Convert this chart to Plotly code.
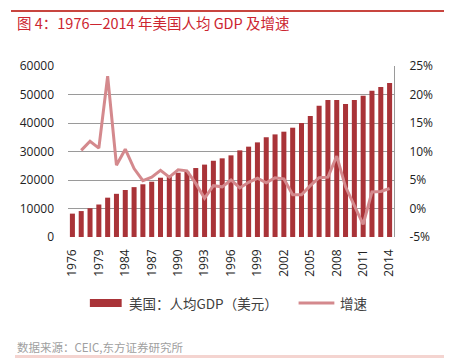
import plotly.graph_objects as go

# ---------------- data ----------------
years = ["1976", "1977", "1978", "1979", "1981", "1983", "1984", "1985", "1986", "1987",
         "1988", "1989", "1990", "1991", "1992", "1993", "1994", "1995", "1996", "1997",
         "1998", "1999", "2000", "2001", "2002", "2003", "2004", "2005", "2006", "2007",
         "2008", "2009", "2010", "2011", "2012", "2013", "2014"]
gdp_per_capita = [8200, 9100, 10100, 11400, 13800, 15150, 16500, 17500, 18500, 19400,
                  20800, 21750, 22550, 22950, 24200, 25400, 26750, 27600, 28650, 30400,
                  31700, 33200, 35000, 36000, 36950, 38350, 40000, 42450, 46070, 48070,
                  48070, 46670, 48070, 49580, 51330, 52630, 54040]
growth_pct = [None, 10.2, 11.8, 10.6, 23.2, 7.6, 10.4, 7.0, 4.9, 5.5,
              6.7, 5.5, 6.8, 6.6, 4.4, 1.8, 4.0, 3.8, 5.0, 3.6,
              4.6, 5.3, 4.5, 5.4, 5.2, 2.4, 2.4, 4.0, 5.4, 5.5,
              9.2, 3.8, 0.6, -2.8, 2.9, 3.0, 3.5]
tick_years = ["1976", "1979", "1984", "1987", "1990", "1993", "1996", "1999",
              "2002", "2005", "2008", "2011", "2014"]
left_ticks = [0, 10000, 20000, 30000, 40000, 50000, 60000]
right_ticks = [-5, 0, 5, 10, 15, 20, 25]

title_text = "图 4：1976—2014 年美国人均 GDP 及增速"
bar_name = "美国：人均GDP（美元）"
line_name = "增速"
source_text = "数据来源：CEIC,东方证券研究所"

# ---------------- style ----------------
BAR_COLOR = "#A93338"
LINE_COLOR = "#D4898D"
GRID = "#9a9a9a"
CJK = "Noto Sans CJK SC"
NUM = "Open Sans"

OFF = 8  # page body margin
W, H = 474 - OFF, 360 - OFF
L, T = 66 - OFF, 66 - OFF
R = W - (394 - OFF)
B = H - (237 - OFF)
PW, PH = W - L - R, H - T - B


def px(x):
    return (x - OFF - L) / PW


def py(y):
    return (H - B - (y - OFF)) / PH


fig = go.Figure()
fig.add_trace(go.Bar(x=years, y=gdp_per_capita, name=bar_name,
                     marker=dict(color=BAR_COLOR, line=dict(width=0)),
                     showlegend=False))
fig.add_trace(go.Scatter(x=years, y=growth_pct, name=line_name, yaxis="y2",
                         mode="lines", line=dict(color=LINE_COLOR, width=3),
                         showlegend=False))

shapes = [
    # legend swatches
    dict(type="rect", xref="paper", yref="paper", x0=px(88), x1=px(120), y0=py(307), y1=py(299),
         fillcolor=BAR_COLOR, line=dict(width=0)),
    dict(type="line", xref="paper", yref="paper", x0=px(298), x1=px(334), y0=py(303), y1=py(303),
         line=dict(color=LINE_COLOR, width=3)),
    # decorative rules
    dict(type="line", xref="paper", yref="paper", x0=px(9), x1=px(442), y0=py(11), y1=py(11),
         line=dict(color="#C8453F", width=2), layer="below"),
    dict(type="line", xref="paper", yref="paper", x0=px(13), x1=px(442), y0=py(356.5), y1=py(356.5),
         line=dict(color="#F4D4D0", width=3), layer="below"),
]


def rule(x0, x1, ymid, h, color):
    # thin decorative rule drawn as an annotation box
    return dict(text="\u00a0", xref="paper", yref="paper", x=px(x0), y=py(ymid),
                xanchor="left", yanchor="middle", showarrow=False,
                width=x1 - x0, height=h, bgcolor=color, borderpad=0, borderwidth=0,
                font=dict(size=1, color=color))


annotations = [
    rule(9, 442, 10.5, 2, "#C8453F"),
    rule(13, 442, 356.5, 3, "#F4D4D0"),
    dict(text=title_text, xref="paper", yref="paper", x=px(13), y=py(22),
         xanchor="left", yanchor="middle", showarrow=False,
         font=dict(family=CJK, size=14.5, color="#CC2530")),
    dict(text=bar_name, xref="paper", yref="paper", x=px(125), y=py(303),
         xanchor="left", yanchor="middle", showarrow=False,
         font=dict(family=CJK, size=13.5, color="#404040")),
    dict(text=line_name, xref="paper", yref="paper", x=px(338), y=py(303),
         xanchor="left", yanchor="middle", showarrow=False,
         font=dict(family=CJK, size=13.5, color="#404040")),
    dict(text=source_text, xref="paper", yref="paper", x=px(13), y=py(347),
         xanchor="left", yanchor="middle", showarrow=False,
         font=dict(family=CJK, size=11.5, color="#A0A0A0")),
]

fig.update_layout(
    width=W, height=H,
    margin=dict(l=L, r=R, t=T, b=B, pad=0),
    paper_bgcolor="white", plot_bgcolor="white",
    bargap=0.43,
    showlegend=False,
    shapes=shapes,
    annotations=annotations,
    xaxis=dict(type="category", categoryorder="array", categoryarray=years,
               tickmode="array", tickvals=tick_years, ticktext=tick_years,
               tickangle=-90, showgrid=False, zeroline=False, showline=False,
               ticks="", ticklabelstandoff=9,
               tickfont=dict(family=NUM, size=12, color="#222222")),
    yaxis=dict(range=[0, 60000], tickmode="array", tickvals=left_ticks,
               ticktext=[str(v) for v in left_ticks],
               showgrid=True, gridcolor=GRID, gridwidth=1, zeroline=False,
               showline=False, ticks="", ticklabelstandoff=13,
               tickfont=dict(family=NUM, size=12, color="#222222")),
    yaxis2=dict(range=[-5, 25], overlaying="y", side="right", tickmode="array",
                tickvals=right_ticks, ticktext=[f"{v}%" for v in right_ticks],
                showgrid=False, zeroline=False, showline=True, linecolor=GRID,
                linewidth=1, ticks="", ticklabelstandoff=12,
                tickfont=dict(family=NUM, size=12, color="#222222")),
)

fig.write_html("out.html")
